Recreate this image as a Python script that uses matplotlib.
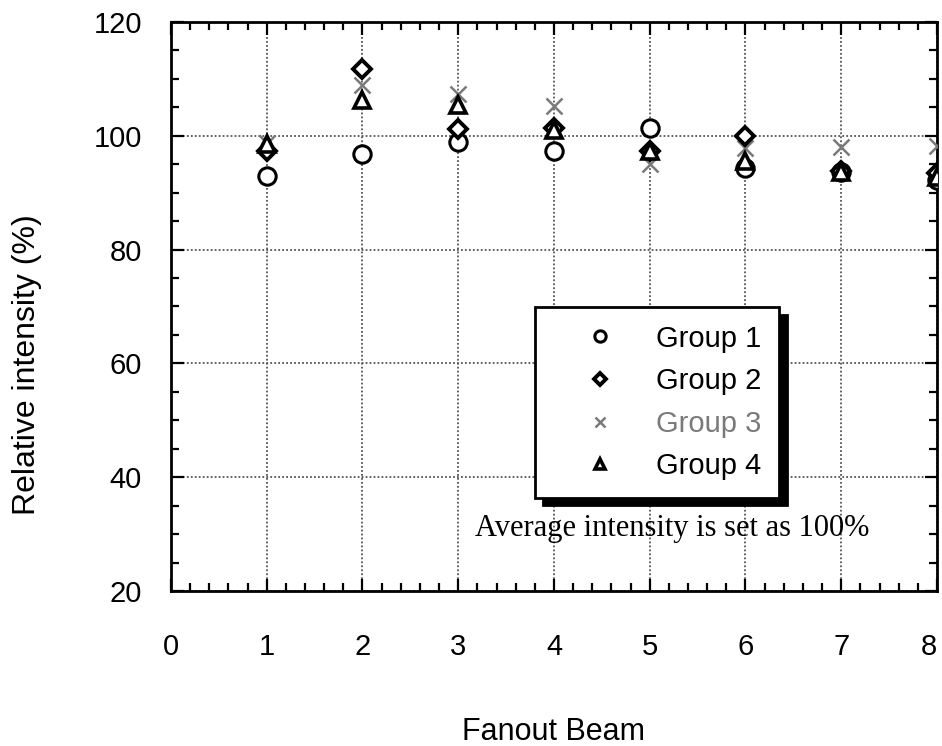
import matplotlib

matplotlib.use("Agg")
import matplotlib.pyplot as plt
from matplotlib.ticker import MultipleLocator

plt.rcParams["font.family"] = ["Liberation Sans", "DejaVu Sans"]

beams = [1, 2, 3, 4, 5, 6, 7, 8]
group1 = [93.0, 96.8, 98.9, 97.4, 101.4, 94.3, 93.6, 92.2]
group2 = [97.4, 111.8, 101.2, 101.4, 97.4, 99.9, 93.8, 93.4]
group3 = [98.8, 109.0, 107.3, 105.2, 95.0, 97.8, 98.0, 98.2]
group4 = [98.6, 106.3, 105.5, 101.0, 97.3, 95.6, 93.7, 92.8]
labels = ["Group 1", "Group 2", "Group 3", "Group 4"]

fig = plt.figure(figsize=(9.42, 7.46), dpi=100)
ax = fig.add_axes([0.1815, 0.2078, 0.8132, 0.7627])

ax.plot(beams, group3, "x", ms=12, mew=1.8, color="#7a7a7a", label=labels[2], zorder=3)
ax.plot(beams, group1, "o", ms=12.5, mew=2.2, mfc="white", mec="black", label=labels[0], zorder=4)
ax.plot(beams, group2, "D", ms=9.5, mew=2.8, mfc="white", mec="black", label=labels[1], zorder=5)
ax.plot(beams, group4, "^", ms=12, mew=2.6, mfc="white", mec="black", label=labels[3], zorder=6)

ax.set_xlim(0, 8)
ax.set_ylim(20, 120)
ax.set_xticks(range(0, 9))
ax.xaxis.set_minor_locator(MultipleLocator(0.2))
ax.yaxis.set_major_locator(MultipleLocator(20))
ax.yaxis.set_minor_locator(MultipleLocator(5))
ax.tick_params(which="both", direction="in", top=True, right=True, width=1.6, color="black")
ax.tick_params(which="major", length=9)
ax.tick_params(which="minor", length=6)
ax.tick_params(axis="x", which="major", pad=30, labelsize=21)
ax.tick_params(axis="y", which="major", pad=21, labelsize=21)
for s in ax.spines.values():
    s.set_linewidth(2)
# the last beam label sits against the right edge of the figure
ax.get_xticklabels()[-1].set_horizontalalignment("right")

ax.grid(True, which="major", color="#555555", ls=(0, (1, 1.2)), lw=1.3)

ax.set_xlabel("Fanout Beam", fontsize=22, va="baseline")
ax.set_ylabel("Relative intensity (%)", fontsize=23)
ax.xaxis.set_label_coords(0.5, -0.262)
ax.yaxis.set_label_coords(-0.168, 0.397)

h, l = ax.get_legend_handles_labels()
order = [l.index(name) for name in labels]
leg = ax.legend(
    [h[i] for i in order], [l[i] for i in order],
    loc="upper left", bbox_to_anchor=(0.475, 0.499), borderaxespad=0,
    fontsize=21, handlelength=3.3, handletextpad=0.25, borderpad=0.6,
    labelspacing=0.5, fancybox=False, framealpha=1, edgecolor="black",
    markerscale=0.65,
    shadow={"color": "black", "alpha": 1, "ox": 6, "oy": -5.5},
)
leg.get_frame().set_linewidth(2)
leg.texts[2].set_color("#7a7a7a")

ax.text(3.17, 31.0, "Average intensity is set as 100%", family="Liberation Serif",
        fontsize=22, ha="left", va="center", zorder=7)

fig.savefig("out.png", dpi=100)
